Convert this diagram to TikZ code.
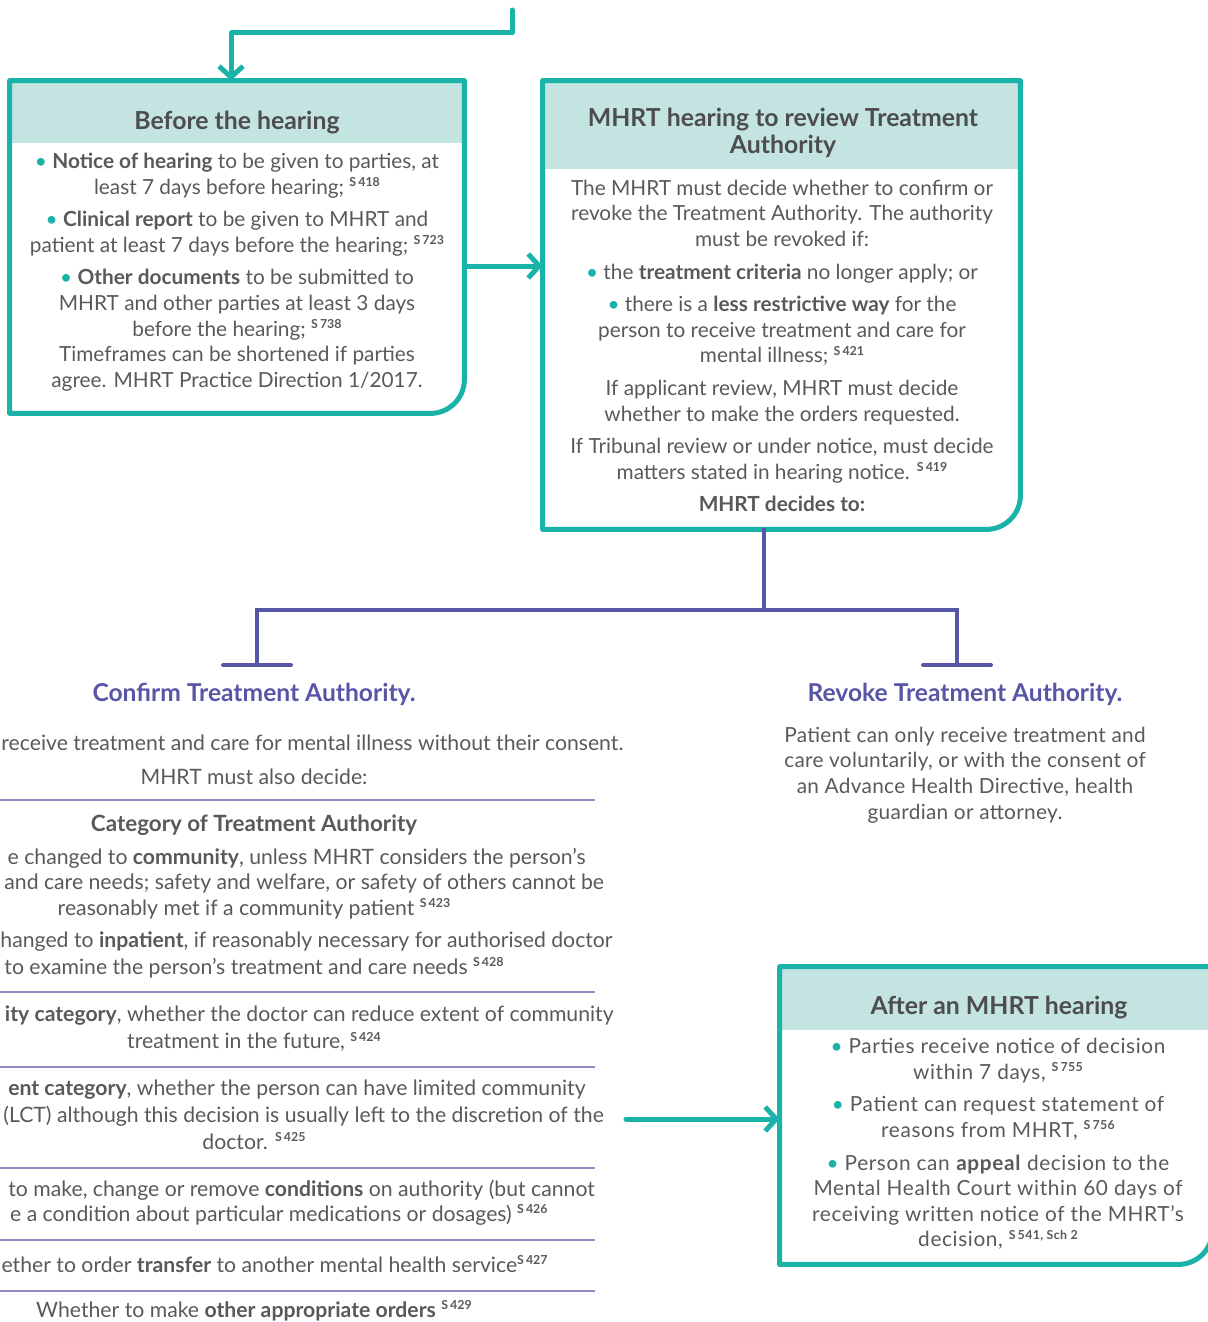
\documentclass[tikz,border=0pt]{standalone}
\usepackage{fontspec}
\setmainfont{Lato}
\newfontfamily\widefont{Lato}[LetterSpace=1.5]
\newfontfamily\widerfont{Lato}[LetterSpace=3]
\usepackage{xcolor}
\usepackage{tikz}
\usetikzlibrary{arrows.meta,positioning,calc}

\definecolor{mhteal}{HTML}{19B3AA}
\definecolor{headfill}{HTML}{C3E4E1}
\definecolor{mhpurple}{HTML}{5755A5}
\definecolor{divline}{HTML}{8E8DC6}
\definecolor{txtgray}{HTML}{58595B}
\definecolor{headgray}{HTML}{4D4D4F}

\newcommand{\bodysize}{\fontsize{10.4}{12.8}\selectfont}
\newcommand{\lctsize}{\fontsize{10.6}{12.8}\selectfont}
\newcommand{\sref}[1]{\raisebox{3.8pt}{\fontsize{6.2}{6.5}\selectfont\bfseries S\,#1}}
\newcommand{\tdot}{{\color{mhteal}\textbullet}\ }
\newcommand{\mhframe}[1]{\draw[boxframe] (#1.north west) -- (#1.north east)
  -- ([yshift=17pt]#1.south east)
  .. controls ([yshift=7.6pt]#1.south east) and ([xshift=-7.6pt]#1.south east) .. ([xshift=-17pt]#1.south east)
  -- (#1.south west) -- cycle;}

\begin{document}
\begin{tikzpicture}[x=0.5pt, y=-0.5pt,
  boxframe/.style={draw=mhteal, line width=2.5pt, line join=round},
  area/.style={inner sep=0pt, minimum width=#1},
  head/.style={fill=headfill, inner sep=0pt, anchor=north},
  title/.style={inner sep=0pt, align=center, text=headgray,
                font=\fontsize{12.4}{13.2}\selectfont\bfseries},
  body/.style={inner sep=0pt, align=center, text=txtgray, font=\bodysize},
  outcome/.style={inner sep=0pt, text=mhpurple, font=\fontsize{12.3}{13}\selectfont\bfseries},
  lct/.style={inner sep=0pt, text=txtgray, font=\lctsize},
  tealarrow/.style={draw=mhteal, line width=2.5pt, line cap=round, line join=round,
                    -{Straight Barb[length=5.5pt,width=12pt]}},
  decide/.style={draw=mhpurple, line width=2pt, line cap=round},
]
\useasboundingbox (0,0) rectangle (1208,1322);
\clip (0,0) rectangle (1208,1322);

\node[area=227pt, minimum height=166pt] (before) at (237,247) {};
\node[area=238.5pt, minimum height=224pt] (hearing) at (781.5,305) {};
\node[area=216pt, minimum height=148.5pt] (after) at (996,1115.5) {};

\node[head, minimum width=227pt, minimum height=31pt] (beforehead) at (before.north) {};
\node[head, minimum width=238.5pt, minimum height=44pt] (hearinghead) at (hearing.north) {};
\node[head, minimum width=216pt, minimum height=31.5pt] (afterhead) at (after.north) {};

\mhframe{before}
\mhframe{hearing}
\mhframe{after}

\node[title] (beforetitle) at (237,123) {Before the hearing};
\node[title] (hearingtitle) at (783,133) {MHRT hearing to review Treatment\\Authority};
\node[title] (aftertitle) at (999,1008) {After an MHRT hearing};

\node[body] (beforetext) at (237,272)
  {\tdot\textbf{Notice of hearing} to be given to parties, at\\
   least 7 days before hearing; \sref{418}\\[3.5pt]
   \tdot\textbf{Clinical report} to be given to MHRT and\\
   patient at least 7 days before the hearing; \sref{723}\\[3.5pt]
   \tdot\textbf{Other documents} to be submitted to\\
   MHRT and other parties at least 3 days\\
   before the hearing; \sref{738}\\
   Timeframes can be shortened if parties\\
   agree. MHRT Practice Direction 1/2017.};

\node[body] (hearingtext) at (782,346)
  {The MHRT must decide whether to confirm or\\
   revoke the Treatment Authority. The authority\\
   must be revoked if:\\[3.5pt]
   \tdot the \textbf{treatment criteria} no longer apply; or\\[3.5pt]
   \tdot there is a \textbf{less restrictive way} for the\\
   person to receive treatment and care for\\
   mental illness; \sref{421}\\[3.5pt]
   If applicant review, MHRT must decide\\
   whether to make the orders requested.\\[3.5pt]
   If Tribunal review or under notice, must decide\\
   matters stated in hearing notice. \sref{419}\\[3.5pt]
   \textbf{MHRT decides to:}};

\node[body, font=\bodysize\widerfont] (aftertext) at (998,1144)
  {\tdot Parties receive notice of decision\\
   within 7 days, \sref{755}\\[3.5pt]
   \tdot Patient can request statement of\\
   reasons from MHRT, \sref{756}\\[3.5pt]
   \tdot Person can \textbf{appeal} decision to the\\
   Mental Health Court within 60 days of\\
   receiving written notice of the MHRT’s\\
   decision, \sref{541, Sch 2}};

\node[outcome] (confirm) at (254,694) {Confirm Treatment Authority.};
\node[outcome] (revoke) at (965,694) {Revoke Treatment Authority.};

\node[body, font=\bodysize\widefont] (revoketext) at (965,775)
  {Patient can only receive treatment and\\
   care voluntarily, or with the consent of\\
   an Advance Health Directive, health\\
   guardian or attorney.};

\node[lct, anchor=west] (consent) at (1,743)
  {receive treatment and care for mental illness without their consent.};
\node[lct] (alsodecide) at (254,777) {MHRT must also decide:};
\node[lct, font=\fontsize{11.2}{12}\selectfont\bfseries] (category) at (254,825) {Category of Treatment Authority};
\node[lct, anchor=east] (community) at (586,858)
  {e changed to \textbf{community}, unless MHRT considers the person’s};
\node[lct, anchor=west] (needs) at (4,884)
  {and care needs; safety and welfare, or safety of others cannot be};
\node[lct] (met) at (254,909) {reasonably met if a community patient \sref{423}};
\node[lct, anchor=east] (inpatient) at (613,942)
  {hanged to \textbf{inpatient}, if reasonably necessary for authorised doctor};
\node[lct] (examine) at (254,968) {to examine the person’s treatment and care needs \sref{428}};
\node[lct, anchor=east] (commcat) at (614,1016)
  {\textbf{ity category}, whether the doctor can reduce extent of community};
\node[lct] (future) at (254,1042) {treatment in the future, \sref{424}};
\node[lct, anchor=east] (inpcat) at (586,1090)
  {\textbf{ent category}, whether the person can have limited community};
\node[lct, anchor=west] (lct) at (3,1116)
  {(LCT) although this decision is usually left to the discretion of the};
\node[lct] (doctor) at (254,1141) {doctor. \sref{425}};
\node[lct, anchor=west] (conditions) at (8,1190)
  {to make, change or remove \textbf{conditions} on authority (but cannot};
\node[lct, anchor=east] (dosages) at (548,1215)
  {e a condition about particular medications or dosages) \sref{426}};
\node[lct, anchor=east] (transfer) at (548,1264)
  {ether to order \textbf{transfer} to another mental health service\sref{427}};
\node[lct] (orders) at (254,1311) {Whether to make \textbf{other appropriate orders} \sref{429}};

\foreach \y in {800,992,1067,1168,1240,1291}
  \draw[divline, line width=1pt] (0,\y) -- (595,\y);

\coordinate (src) at (512,10);
\coordinate (bend) at (512,33);
\draw[tealarrow] (src) -- (bend) -| ([xshift=-3pt]before.north);
\coordinate (mid) at ([yshift=-9.5pt]before.east);
\draw[tealarrow] (mid) -- (mid -| hearing.west);
\coordinate (lctout) at (626,1119);
\draw[tealarrow] (lctout) -- (lctout -| after.west);

\coordinate (split) at (764,610);
\coordinate (cbar) at (257,665);
\coordinate (rbar) at (957,665);
\draw[decide] (hearing.south -| split) -- (split);
\draw[decide] (cbar) -- (cbar |- split) -- (rbar |- split) -- (rbar);
\draw[decide] ([xshift=-17pt]cbar) -- ([xshift=17pt]cbar);
\draw[decide] ([xshift=-17pt]rbar) -- ([xshift=17pt]rbar);
\end{tikzpicture}
\end{document}
